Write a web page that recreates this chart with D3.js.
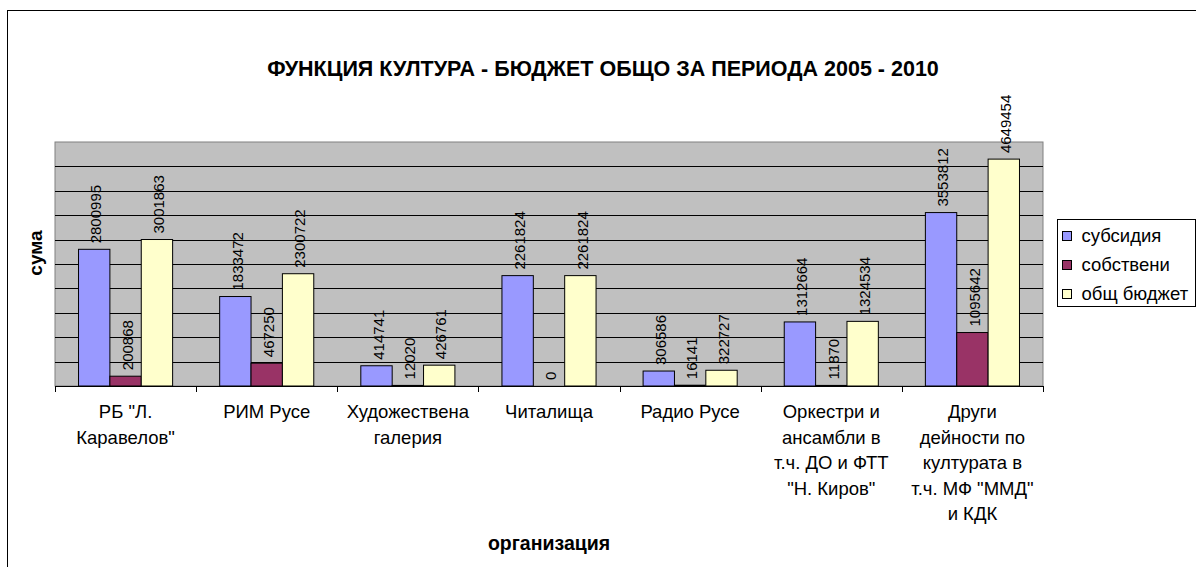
<!DOCTYPE html>
<html>
<head>
<meta charset="utf-8">
<script src="https://cdn.jsdelivr.net/npm/d3@7"></script>
<style>
  body { margin: 0; background: #fff; }
  text { font-family: "Liberation Sans", Arial, sans-serif; fill: #000; }
</style>
</head>
<body>
<div id="chart"></div>
<script>
// Данни
const categories = [
  ['РБ "Л.', 'Каравелов"'],
  ['РИМ Русе'],
  ['Художествена', 'галерия'],
  ['Читалища'],
  ['Радио Русе'],
  ['Оркестри и', 'ансамбли в', 'т.ч. ДО и ФТТ', '"Н. Киров"'],
  ['Други', 'дейности по', 'културата в', 'т.ч. МФ "ММД"', 'и КДК']
];
const seriesNames = ['субсидия', 'собствени', 'общ бюджет'];
const subsidia = [2800995, 1833472, 414741, 2261824, 306586, 1312664, 3553812];
const sobstveni = [200868, 467250, 12020, 0, 16141, 11870, 1095642];
const obshtBudget = [3001863, 2300722, 426761, 2261824, 322727, 1324534, 4649454];
const colors = ['#9999FF', '#993366', '#FFFFCC'];

const W = 1196, H = 567;
const plot = { left: 55, right: 1043, top: 142, bottom: 386 };

const svg = d3.select('#chart')
  .append('svg')
  .attr('width', W)
  .attr('height', H);

// рамка на диаграмата
svg.append('rect')
  .attr('x', 7.5).attr('y', 10.5)
  .attr('width', W).attr('height', H)
  .attr('fill', 'none')
  .attr('stroke', '#000')
  .attr('stroke-width', 1);

const catIdx = categories.map((d, i) => i);
const x0 = d3.scaleBand().domain(catIdx).range([plot.left, plot.right]).padding(0);
const bw = x0.bandwidth() / 4.5;
const x1 = d3.scaleBand().domain(d3.range(3)).range([bw * 0.75, bw * 3.75]).padding(0);
const y = d3.scaleLinear().domain([0, 5000000]).range([plot.bottom, plot.top]);

// фон на графиката
svg.append('rect')
  .attr('x', plot.left).attr('y', plot.top)
  .attr('width', plot.right - plot.left)
  .attr('height', plot.bottom - plot.top)
  .attr('fill', '#C0C0C0')
  .attr('stroke', '#808080')
  .attr('stroke-width', 1);

// хоризонтални линии
svg.append('g')
  .selectAll('line')
  .data(y.ticks(10).filter(t => t > 0 && t < 5000000))
  .enter()
  .append('line')
  .attr('x1', plot.left).attr('x2', plot.right)
  .attr('y1', d => Math.round(y(d)) + 0.5)
  .attr('y2', d => Math.round(y(d)) + 0.5)
  .attr('stroke', '#000')
  .attr('stroke-width', 1);

const rows = catIdx.map(i => [subsidia[i], sobstveni[i], obshtBudget[i]]);

const groups = svg.append('g')
  .selectAll('g')
  .data(rows)
  .enter()
  .append('g')
  .attr('transform', (d, i) => `translate(${x0(i)},0)`);

groups.selectAll('rect')
  .data(d => d)
  .enter()
  .append('rect')
  .attr('x', (d, j) => x1(j))
  .attr('y', d => y(d))
  .attr('width', x1.bandwidth())
  .attr('height', d => y(0) - y(d))
  .attr('fill', (d, j) => colors[j])
  .attr('stroke', '#000')
  .attr('stroke-width', 1);

// стойности над колоните
groups.selectAll('text')
  .data(d => d)
  .enter()
  .append('text')
  .attr('transform', (d, j) => `translate(${x1(j) + x1.bandwidth() / 2 + 2},${y(d) - 6}) rotate(-90)`)
  .attr('dy', '0.35em')
  .attr('text-anchor', 'start')
  .attr('font-size', '15px')
  .text(d => d);

// ос X
svg.append('line')
  .attr('x1', plot.left).attr('x2', plot.right)
  .attr('y1', plot.bottom + 0.5).attr('y2', plot.bottom + 0.5)
  .attr('stroke', '#000');

svg.append('g')
  .selectAll('line')
  .data(d3.range(categories.length + 1))
  .enter()
  .append('line')
  .attr('x1', i => Math.round(plot.left + i * x0.bandwidth()) + 0.5)
  .attr('x2', i => Math.round(plot.left + i * x0.bandwidth()) + 0.5)
  .attr('y1', plot.bottom)
  .attr('y2', plot.bottom + 6)
  .attr('stroke', '#000');

const catLabels = svg.append('g')
  .selectAll('text')
  .data(categories)
  .enter()
  .append('text')
  .attr('x', (d, i) => x0(i) + x0.bandwidth() / 2)
  .attr('y', 418)
  .attr('text-anchor', 'middle')
  .attr('font-size', '18.5px');

catLabels.selectAll('tspan')
  .data(d => d)
  .enter()
  .append('tspan')
  .attr('x', function() { return this.parentNode.getAttribute('x'); })
  .attr('dy', (d, k) => k === 0 ? 0 : 25.5)
  .text(d => d);

// заглавия
svg.append('text')
  .attr('x', 603).attr('y', 76)
  .attr('text-anchor', 'middle')
  .attr('font-size', '21.5px')
  .attr('font-weight', 'bold')
  .text('ФУНКЦИЯ КУЛТУРА - БЮДЖЕТ ОБЩО ЗА ПЕРИОДА 2005 - 2010');

svg.append('text')
  .attr('x', (plot.left + plot.right) / 2).attr('y', 550)
  .attr('text-anchor', 'middle')
  .attr('font-size', '19.5px')
  .attr('font-weight', 'bold')
  .text('организация');

svg.append('text')
  .attr('transform', 'translate(42,253) rotate(-90)')
  .attr('text-anchor', 'middle')
  .attr('font-size', '19px')
  .attr('font-weight', 'bold')
  .text('сума');

// легенда
const legend = svg.append('g').attr('transform', 'translate(1057.5,219.5)');
legend.append('rect')
  .attr('width', 138).attr('height', 87)
  .attr('fill', '#fff')
  .attr('stroke', '#000');

const items = legend.selectAll('g')
  .data(seriesNames)
  .enter()
  .append('g')
  .attr('transform', (d, i) => `translate(0,${16.5 + i * 29})`);

items.append('rect')
  .attr('x', 5).attr('y', -4.5)
  .attr('width', 9).attr('height', 9)
  .attr('fill', (d, i) => colors[i])
  .attr('stroke', '#000');

items.append('text')
  .attr('x', 24)
  .attr('dy', '0.35em')
  .attr('font-size', '18.5px')
  .text(d => d);
</script>
</body>
</html>
